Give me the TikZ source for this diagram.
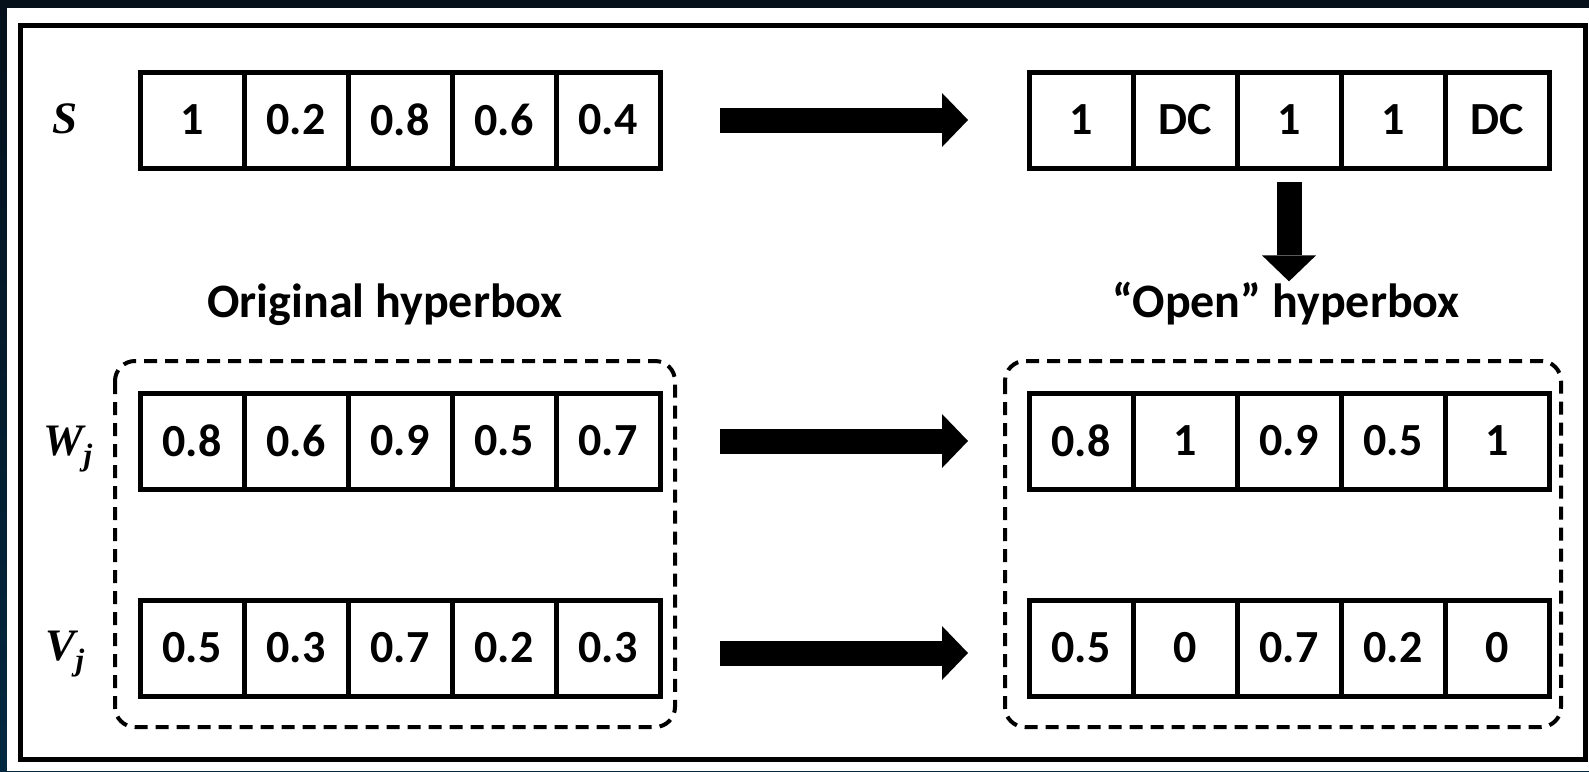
\documentclass[tikz,border=0pt]{standalone}
\usepackage{fontspec}
\setmainfont{Carlito}
\newfontfamily\vecfont{Liberation Serif}
\usepackage{tikz}
\usetikzlibrary{arrows.meta}

\definecolor{navytop}{RGB}{5,16,27}
\definecolor{navybot}{RGB}{2,40,64}
\newcommand{\vecsub}[2]{#1\raisebox{-10pt}{\fontsize{31}{31}\selectfont #2}}

\begin{document}
\begin{tikzpicture}[x=1pt,y=-1pt,
  cell/.style={draw,line width=5pt,minimum width=104pt,minimum height=96pt,inner sep=0pt,outer sep=0pt,font=\fontsize{46}{50}\selectfont\bfseries},
  lbl/.style={inner sep=0pt,anchor=base,font=\fontsize{48}{50}\selectfont\bfseries},
  vec/.style={inner sep=0pt,anchor=base,font=\fontsize{45}{50}\selectfont\vecfont\bfseries\itshape},
  fat/.style={line width=25pt,-{Triangle[width=54pt,length=26pt,line width=0pt]}},
  hbox/.style={line width=4pt,dash pattern=on 13pt off 8pt,rounded corners=20pt}]
\useasboundingbox (0,0) rectangle (1589,771);
\shade[top color=navytop,bottom color=navybot] (0,0) rectangle (1589,771);
\fill[white] (7,8) rectangle (1589,771);
\draw[line width=5pt] (20,25) rectangle (1585,759);

\foreach \v [count=\i] in {1,0.2,0.8,0.6,0.4}
  \node[cell] (s\i) at (88+104*\i,120) {\v};
\foreach \v [count=\i] in {1,DC,1,1,DC}
  \node[cell] (d\i) at (977+104*\i,120) {\v};
\foreach \v [count=\i] in {0.8,0.6,0.9,0.5,0.7}
  \node[cell] (w\i) at (88+104*\i,441) {\v};
\foreach \v [count=\i] in {0.5,0.3,0.7,0.2,0.3}
  \node[cell] (v\i) at (88+104*\i,648) {\v};
\foreach \v [count=\i] in {0.8,1,0.9,0.5,1}
  \node[cell] (ow\i) at (977+104*\i,441) {\v};
\foreach \v [count=\i] in {0.5,0,0.7,0.2,0}
  \node[cell] (ov\i) at (977+104*\i,648) {\v};

\node[vec] (slbl) at (65,133) {S};
\node[vec] (wlbl) at (68,455) {\vecsub{W}{j}};
\node[vec] (vlbl) at (65,660) {\vecsub{V}{j}};
\node[lbl] (origlbl) at (385,317) {Original hyperbox};
\node[lbl] (openlbl) at (1286,317) {“Open” hyperbox};

\draw[hbox] ([shift={(-25pt,32pt)}]w1.north west) rectangle ([shift={(15pt,-31pt)}]v5.south east);
\draw[hbox] ([shift={(-24pt,32pt)}]ow1.north west) rectangle ([shift={(12pt,-31pt)}]ov5.south east);

\draw[fat,shorten <=60pt,shorten >=61pt] (s5.east) -- (d1.west);
\draw[fat,shorten <=60pt,shorten >=61pt] (w5.east) -- (ow1.west);
\draw[fat,shorten <=60pt,shorten >=61pt] ([yshift=-5pt]v5.east) -- ([yshift=-5pt]ov1.west);
\draw[fat,shorten <=14pt] (d3.south) -- (d3.south |- openlbl.north);
\end{tikzpicture}
\end{document}
